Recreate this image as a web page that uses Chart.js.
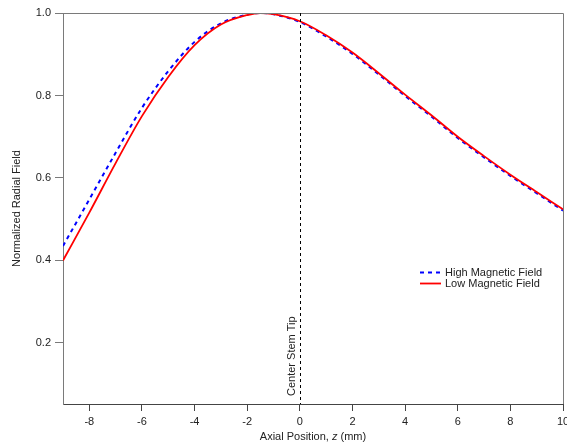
<!DOCTYPE html>
<html>
<head>
<meta charset="utf-8">
<script src="https://cdn.jsdelivr.net/npm/chart.js@4/dist/chart.umd.min.js"></script>
<style>
  html, body { margin: 0; padding: 0; background: #fff; }
  #wrap { width: 567px; height: 443px; }
</style>
</head>
<body>
<div id="wrap"><canvas id="fieldChart" width="567" height="443"></canvas></div>
<script>
// axial positions (mm) and normalized radial field
const zPositions = [-9, -8, -7, -6, -5, -4, -3, -2, -1.5, -1, 0, 1, 2, 3, 4, 5, 6, 7, 8, 9, 10];
const highField = [0.435, 0.548, 0.661, 0.770, 0.859, 0.930, 0.975, 0.996, 1.000, 0.997, 0.978,
                   0.943, 0.901, 0.851, 0.799, 0.749, 0.697, 0.650, 0.605, 0.563, 0.521];
const lowField  = [0.400, 0.516, 0.636, 0.750, 0.845, 0.922, 0.972, 0.995, 1.000, 0.997, 0.980,
                   0.946, 0.904, 0.854, 0.802, 0.752, 0.700, 0.653, 0.608, 0.566, 0.524];
const xTicks = [-8, -6, -4, -2, 0, 2, 4, 6, 8, 10];
const yTicks = [0.2, 0.4, 0.6, 0.8, 1.0];
const markerZ = 0;
const markerLabel = 'Center Stem Tip';

const FONT = '"Liberation Sans", Arial, sans-serif';
const AXIS_GRAY = '#7a7a7a';

function toPoints(values) {
    return zPositions.map((z, i) => ({ x: z, y: values[i] }));
}

// frame, marker line, legend and axis titles
const decorations = {
    id: 'decorations',
    afterDatasetsDraw(chart) {
        const ctx = chart.ctx;
        const area = chart.chartArea;
        const xs = chart.scales.x;

        ctx.save();
        // top and right frame lines
        ctx.strokeStyle = AXIS_GRAY;
        ctx.lineWidth = 1;
        ctx.beginPath();
        ctx.moveTo(area.left, area.top + 0.5);
        ctx.lineTo(area.right + 0.5, area.top + 0.5);
        ctx.lineTo(area.right + 0.5, area.bottom);
        ctx.stroke();

        // dashed marker at z = 0
        const mx = Math.round(xs.getPixelForValue(markerZ)) + 0.5;
        ctx.strokeStyle = '#000';
        ctx.setLineDash([3, 3]);
        ctx.beginPath();
        ctx.moveTo(mx, area.top);
        ctx.lineTo(mx, area.bottom);
        ctx.stroke();
        ctx.setLineDash([]);

        ctx.fillStyle = '#222';
        ctx.font = '11px ' + FONT;
        ctx.save();
        ctx.translate(mx - 8.5, area.bottom - 8);
        ctx.rotate(-Math.PI / 2);
        ctx.textAlign = 'left';
        ctx.textBaseline = 'middle';
        ctx.fillText(markerLabel, 0, 0);
        ctx.restore();

        // legend
        const lx = 420, ly = 271.5;
        const order = [1, 0];
        order.forEach((di, row) => {
            const ds = chart.data.datasets[di];
            const y = Math.round(ly + row * 11.5) + 0.5;
            ctx.strokeStyle = ds.borderColor;
            ctx.lineWidth = ds.borderWidth;
            ctx.setLineDash(ds.borderDash || []);
            ctx.beginPath();
            ctx.moveTo(lx, y);
            ctx.lineTo(lx + 21, y);
            ctx.stroke();
            ctx.setLineDash([]);
            ctx.textAlign = 'left';
            ctx.textBaseline = 'middle';
            ctx.fillStyle = '#222';
            ctx.fillText(ds.label, lx + 25, y);
        });

        // x axis title with italic z
        const parts = [['Axial Position, ', 'normal'], ['z', 'italic'], [' (mm)', 'normal']];
        let total = 0;
        parts.forEach(p => { ctx.font = p[1] + ' 11px ' + FONT; total += ctx.measureText(p[0]).width; });
        let tx = (area.left + area.right) / 2 - total / 2;
        ctx.textBaseline = 'middle';
        parts.forEach(p => {
            ctx.font = p[1] + ' 11px ' + FONT;
            ctx.fillText(p[0], tx, 437);
            tx += ctx.measureText(p[0]).width;
        });

        // y axis title
        ctx.font = '11px ' + FONT;
        ctx.save();
        ctx.translate(17, (area.top + area.bottom) / 2);
        ctx.rotate(-Math.PI / 2);
        ctx.textAlign = 'center';
        ctx.fillText('Normalized Radial Field', 0, 0);
        ctx.restore();

        ctx.restore();
    }
};

new Chart(document.getElementById('fieldChart'), {
    type: 'line',
    data: {
        datasets: [
            {
                label: 'Low Magnetic Field',
                data: toPoints(lowField),
                borderColor: '#ff0000',
                borderWidth: 1.8,
                order: 0
            },
            {
                label: 'High Magnetic Field',
                data: toPoints(highField),
                borderColor: '#0000ff',
                borderWidth: 2,
                borderDash: [4, 4],
                order: 1
            }
        ]
    },
    options: {
        responsive: false,
        animation: false,
        devicePixelRatio: 1,
        elements: {
            point: { radius: 0 },
            line: { cubicInterpolationMode: 'monotone', fill: false }
        },
        layout: { padding: { top: 13, right: 4, left: 0, bottom: 0 } },
        plugins: {
            legend: { display: false },
            tooltip: { enabled: false }
        },
        scales: {
            x: {
                type: 'linear',
                min: -9,
                max: 10,
                afterBuildTicks: s => { s.ticks = xTicks.map(v => ({ value: v })); },
                afterFit: s => { s.height = 39; s.paddingLeft = 0; s.paddingRight = 0; },
                grid: { drawOnChartArea: false, drawTicks: true, tickLength: 7, color: '#444' },
                border: { display: true, color: '#444' },
                ticks: {
                    padding: 4,
                    maxRotation: 0,
                    autoSkip: false,
                    color: '#222',
                    font: { family: FONT, size: 11 },
                    callback: v => String(v)
                }
            },
            y: {
                type: 'linear',
                min: 0.052,
                max: 1.0,
                afterBuildTicks: s => { s.ticks = yTicks.map(v => ({ value: v })); },
                afterFit: s => { s.width = 63; s.paddingTop = 0; s.paddingBottom = 0; },
                grid: { drawOnChartArea: false, drawTicks: true, tickLength: 8, color: AXIS_GRAY },
                border: { display: true, color: AXIS_GRAY },
                ticks: {
                    padding: 4,
                    autoSkip: false,
                    color: '#222',
                    font: { family: FONT, size: 11 },
                    callback: v => v.toFixed(1)
                }
            }
        }
    },
    plugins: [decorations]
});
</script>
</body>
</html>
